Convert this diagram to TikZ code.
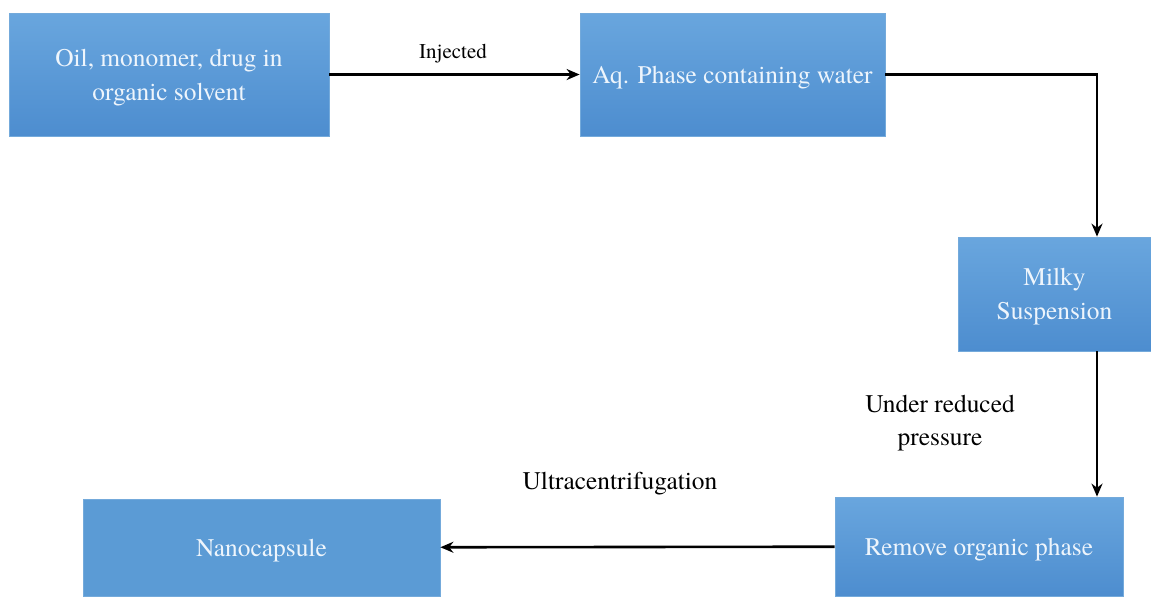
\documentclass[tikz,border=0pt]{standalone}
\usepackage{fontspec}
\setmainfont{texgyretermes}[Extension=.otf, UprightFont=*-regular, BoldFont=*-bold, ItalicFont=*-italic, BoldItalicFont=*-bolditalic]
\usetikzlibrary{positioning}
\usetikzlibrary{arrows.meta}
\definecolor{boxblue}{HTML}{5B9BD5}
\definecolor{boxtop}{HTML}{69A6DE}
\definecolor{boxbot}{HTML}{4D8DCF}
\definecolor{boxtext}{HTML}{EEF5FC}
\def\thickness{very thick}
\tikzset{
stage/.style 2 args={
	rectangle, draw=boxblue!85!white, line width=0.4pt,
	top color=boxtop, bottom color=boxbot,
	text=boxtext, align=center, inner sep=2pt, text depth=0pt,
	font=\fontsize{12.7}{17}\selectfont,
	minimum width=#1, minimum height=#2
},
flatstage/.style 2 args={
	stage={#1}{#2}, top color=boxblue, bottom color=boxblue
},
flow/.style={\thickness, line width=1.3pt, -{Stealth[length=6.5pt,width=5.5pt]}},
note/.style={align=center, font=\fontsize{12.7}{16.5}\selectfont},
}

\begin{document}
\begin{tikzpicture}[x=0.5pt, y=-0.5pt]
\useasboundingbox (0,0) rectangle (1151,596);
%Place the nodes
\node[stage={160pt}{61.5pt}] (oil) at (169,74.5) {Oil, monomer, drug in\\organic solvent};
\node[stage={152.5pt}{61.5pt}] (aq) at (732.5,74.5) {Aq. Phase containing water};
\node[stage={96.5pt}{57pt}] (milky) at (1054.5,294) {Milky\\Suspension};
\node[stage={144pt}{49.5pt}] (remove) at (979,546.5) {Remove organic phase};
\node[flatstage={178.5pt}{48.5pt}] (nano) at (261.5,547.5) {Nanocapsule};
\coordinate (bend) at (1097,74.5);

%Connect them
\draw[flow] (oil.east |- aq) to (aq);
\draw[flow] (aq.east) -- (bend) -- (bend |- milky.north);
\draw[flow] (milky.south -| bend) -- (remove.north -| bend);
\draw[flow] (remove) to (nano);

%Labels
\node[font=\fontsize{10.5}{12}\selectfont] (inj) at (453,54) {Injected};
\node[note] (press) at (940,423) {Under reduced\\pressure};
\node[note] (ultra) at (620,484) {Ultracentrifugation};

\end{tikzpicture}
\end{document}
